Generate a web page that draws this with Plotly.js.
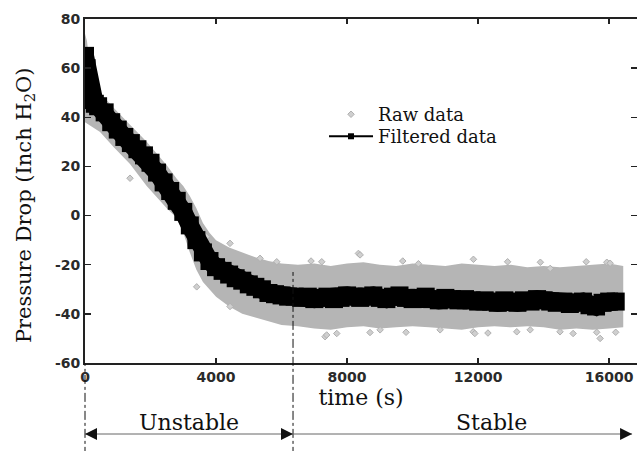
<!DOCTYPE html>
<html>
<head>
<meta charset="utf-8">
<script src="https://cdn.plot.ly/plotly-3.0.1.min.js"></script>
<style>html,body{margin:0;padding:0;background:#fff;overflow:hidden}#chart{width:637px;height:451px}</style>
</head>
<body>
<div id="chart"></div>
<script>
// ---- Filtered data (time in s, pressure drop in inch H2O) ----
var filtT = [0, 50, 100, 150, 200, 300, 400, 600, 800, 1000, 1200, 1400, 1600, 1800, 2000,
  2200, 2400, 2600, 2800, 3000, 3200, 3400, 3600, 3800, 4000, 4200, 4400, 4600, 4800, 5000,
  5200, 5400, 5600, 5800, 6000, 6200, 6400, 6600, 6800, 7000, 7200, 7400, 7600, 7800, 8000,
  8200, 8400, 8600, 8800, 9000, 9200, 9400, 9600, 9800, 10000, 10200, 10400, 10600, 10800, 11000,
  11200, 11400, 11600, 11800, 12000, 12200, 12400, 12600, 12800, 13000, 13200, 13400, 13600, 13800, 14000,
  14200, 14400, 14600, 14800, 15000, 15200, 15400, 15600, 15800, 16000, 16200];
var filtV = [65, 60, 54, 50, 47, 45.5, 44.5, 42, 38, 35, 32, 29.5, 27, 24.5, 21.5,
  17.5, 13.5, 10, 6, 1.5, -4, -10, -15, -18.5, -21, -22.5, -24, -25.5, -26.5, -28,
  -29, -30, -31.5, -32, -32.5, -33, -33, -33.5, -33, -34, -33.5, -33, -34, -33.5, -32.5,
  -33, -33.5, -33, -32.5, -33.5, -34, -33, -32.5, -33.5, -34, -33.5, -33, -34, -34.5, -33.5,
  -34, -34.5, -34, -34.5, -35, -34.5, -35, -35.5, -34.5, -35, -35.5, -34.5, -35, -34, -34.5,
  -35, -35.5, -35, -36, -35.5, -35, -36.5, -37, -35.5, -35, -35];

// ---- Raw data: extent of the dense scatter cloud ----
var rawT = [0, 60, 120, 160, 250, 460, 865, 1374, 1883, 2495, 2800, 3000, 3200, 3400, 3600,
  3800, 4000, 4400, 4800, 5200, 5600, 6000, 6500, 7000, 7500, 8000, 8500, 9000, 9500, 10000,
  10500, 11000, 11500, 12000, 12500, 13000, 13500, 14000, 14500, 15000, 15500, 16000, 16430];
var rawUpper = [74, 71, 64, 60, 53, 50, 44, 37, 30, 20.5, 15, 12, 8, 3, -3,
  -7, -10, -13, -15, -17, -18.5, -19.5, -20, -19.5, -20.5, -19.5, -19, -20, -20.5, -19.5,
  -20, -20.5, -19.5, -20, -20.5, -20, -21, -20.5, -21, -20.5, -20, -19.5, -20.5];
var rawLower = [38, 37.5, 37, 36.5, 36, 34, 28, 21, 12, 3, -1, -7, -15, -22, -27,
  -30, -33, -37, -40, -41.5, -43, -44.5, -45, -46, -46.5, -45.5, -45, -46, -45.5, -45,
  -45.5, -46, -46.5, -45.5, -45, -45.5, -45, -45.5, -46.5, -46, -46.5, -46, -45.5];
// scattered raw points lying outside the dense cloud
var rawOutT = [1374, 3410, 3715, 4427, 4427, 5344, 5853, 7227, 7328, 7377, 7685, 8346, 8397, 9008,
  10178, 10840, 11850, 11857, 11900, 13180, 13590, 14200, 14500, 15620, 15725, 15928, 16030,
  6900, 9700, 12900, 13900, 15300, 8700, 9800, 12300, 14900, 16200];
var rawOutV = [15.2, -29, -8.6, -11.3, -37, -17.4, -18.8, -18.8, -49.3, -48.6, -48, -15.4, -16, -46.5,
  -19.6, -46.5, -47.3, -17.8, -48, -47.3, -46.5, -21.5, -47.3, -47.5, -50, -19, -19.4,
  -18.5, -18.5, -18.8, -19, -18.8, -47.6, -47.5, -47.8, -48, -47.5];

// ---- Axes ----
var xTickVals = [0, 4000, 8000, 12000, 16000];
var xTickText = ['0', '4000', '8000', '12000', '16000'];
var yTickVals = [-60, -40, -20, 0, 20, 40, 60, 80];
var yTickText = ['-60', '-40', '-20', '0', '20', '40', '60', '80'];

// ---- Regimes ----
var phaseBounds = [0, 6350, 16700];
var phaseNames = ['Unstable', 'Stable'];
var phaseLabelT = [3175, 12400];

var serif = 'DejaVu Serif, Liberation Serif, serif';
var tickFont = {family: 'DejaVu Sans, Liberation Sans, sans-serif', size: 14, color: '#2a2a2a', weight: 'bold'};
var gray = '#b5b5b5';

var traces = [
  {x: rawT, y: rawUpper, mode: 'lines', line: {width: 0, color: gray}, showlegend: false, hoverinfo: 'skip'},
  {x: rawT, y: rawLower, mode: 'lines', line: {width: 0, color: gray}, fill: 'tonexty', fillcolor: gray, showlegend: false, hoverinfo: 'skip'},
  {x: rawOutT, y: rawOutV, mode: 'markers', name: 'Raw data', legend: 'legend',
   marker: {symbol: 'diamond', size: 5, color: '#cfcfcf', line: {color: '#b0b0b0', width: 1}}},
  {x: filtT, y: filtV, mode: 'lines+markers', showlegend: false,
   line: {color: '#000', width: 18}, marker: {symbol: 'square', size: 18, color: '#000'}},
  {x: [null], y: [null], mode: 'lines+markers', name: 'Filtered data', legend: 'legend2',
   line: {color: '#000', width: 2}, marker: {symbol: 'square', size: 6, color: '#000'}}
];

var arrowY = -0.2064;
var lineStyle = {color: '#111', width: 1, dash: 'dashdot'};
var headStyle = {color: '#111', width: 0};
var shapes = [
  {type: 'line', xref: 'paper', yref: 'paper', x0: 0, x1: 0, y0: -0.27, y1: 0, line: lineStyle},
  {type: 'line', xref: 'x', yref: 'paper', x0: phaseBounds[1], x1: phaseBounds[1], y0: -0.27, y1: 0.2645, line: lineStyle},
  {type: 'line', xref: 'x', yref: 'paper', x0: phaseBounds[0], x1: phaseBounds[2], y0: arrowY, y1: arrowY, line: {color: '#666', width: 1}},
  {type: 'path', xref: 'x', yref: 'paper', xsizemode: 'pixel', ysizemode: 'pixel', xanchor: phaseBounds[0], yanchor: arrowY,
   path: 'M0,0 L12,6 L12,-6 Z', fillcolor: '#111', line: headStyle},
  {type: 'path', xref: 'x', yref: 'paper', xsizemode: 'pixel', ysizemode: 'pixel', xanchor: phaseBounds[1], yanchor: arrowY,
   path: 'M0,0 L-12,6 L-12,-6 Z', fillcolor: '#111', line: headStyle},
  {type: 'path', xref: 'x', yref: 'paper', xsizemode: 'pixel', ysizemode: 'pixel', xanchor: phaseBounds[2], yanchor: arrowY,
   path: 'M0,0 L-12,6 L-12,-6 Z', fillcolor: '#111', line: headStyle}
];

var annotations = [
  {xref: 'paper', yref: 'paper', x: -0.1087, y: 0.459, text: 'Pressure Drop (Inch H<sub>2</sub>O)', textangle: -90,
   showarrow: false, xanchor: 'center', yanchor: 'middle', font: {family: serif, size: 21, color: '#111'}},
  {xref: 'x', yref: 'paper', x: phaseLabelT[0], y: -0.1744, text: phaseNames[0], showarrow: false,
   xanchor: 'center', yanchor: 'middle', font: {family: serif, size: 22, color: '#111'}},
  {xref: 'x', yref: 'paper', x: phaseLabelT[1], y: -0.1744, text: phaseNames[1], showarrow: false,
   xanchor: 'center', yanchor: 'middle', font: {family: serif, size: 22, color: '#111'}}
];

var legendBase = {xanchor: 'left', yanchor: 'top', bgcolor: 'rgba(0,0,0,0)',
  font: {family: serif, size: 18, color: '#111'}, itemwidth: 44};

var layout = {
  width: 637, height: 451,
  margin: {l: 85, r: 0, t: 19, b: 88, pad: 0},
  paper_bgcolor: '#fff', plot_bgcolor: '#fff',
  showlegend: true,
  legend: Object.assign({x: 0.433, y: 0.776}, legendBase),
  legend2: Object.assign({x: 0.433, y: 0.712}, legendBase),
  xaxis: {range: [0, 16850], tickvals: xTickVals, ticktext: xTickText, ticks: 'inside', ticklen: 5,
          tickwidth: 1.5, tickcolor: '#222', showline: true, linecolor: '#222', linewidth: 2, mirror: 'ticks',
          showgrid: false, zeroline: false, tickfont: tickFont,
          title: {text: 'time (s)', font: {family: serif, size: 22, color: '#111'}, standoff: 6}},
  yaxis: {range: [-60, 80], tickvals: yTickVals, ticktext: yTickText, ticks: 'inside', ticklen: 6,
          tickwidth: 1.5, tickcolor: '#222', showline: true, linecolor: '#222', linewidth: 2, mirror: 'ticks',
          showgrid: false, zeroline: false, tickfont: tickFont},
  shapes: shapes,
  annotations: annotations
};

Plotly.newPlot('chart', traces, layout, {displayModeBar: false, staticPlot: true});
</script>
</body>
</html>
